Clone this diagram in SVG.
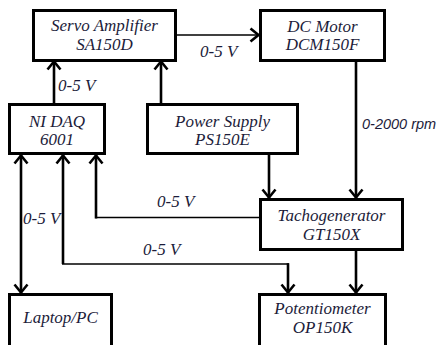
<svg xmlns="http://www.w3.org/2000/svg" width="440" height="345" viewBox="0 0 440 345">
<style>
.box{fill:#fff;stroke:#000;stroke-width:3}
.t{font-family:'Liberation Serif','Times New Roman',serif;font-style:italic;font-size:17px;fill:#1c1c3a;text-anchor:middle}
.lbl{font-family:'Liberation Serif','Times New Roman',serif;font-style:italic;font-size:17px;fill:#1c1c3a}
.rpm{font-family:'Liberation Sans',Arial,sans-serif;font-style:italic;font-size:14.5px;fill:#1c1c3a}
.thick{stroke:#000;stroke-width:2.6;fill:none}
.thin{stroke:#000;stroke-width:1.6;fill:none}
</style>
<defs>
<marker id="ah" viewBox="0 0 12 16" refX="10.5" refY="8" markerWidth="12" markerHeight="16" markerUnits="userSpaceOnUse" orient="auto">
<path d="M2,1.5 L10,8 L2,14.5" fill="none" stroke="#000" stroke-width="2.6"/>
</marker>
<marker id="ahs" viewBox="0 0 12 16" refX="10.5" refY="8" markerWidth="12" markerHeight="16" markerUnits="userSpaceOnUse" orient="auto-start-reverse">
<path d="M2,1.5 L10,8 L2,14.5" fill="none" stroke="#000" stroke-width="2.6"/>
</marker>
</defs>
<g id="connectors">
<line class="thin" x1="177" y1="35" x2="259" y2="35" marker-end="url(#ah)"/>
<line class="thick" x1="54" y1="103" x2="54" y2="61" marker-end="url(#ah)"/>
<line class="thick" x1="161" y1="103" x2="161" y2="61" marker-end="url(#ah)"/>
<line class="thick" x1="356" y1="62" x2="356" y2="198" marker-end="url(#ah)"/>
<line class="thick" x1="269" y1="154" x2="269" y2="198" marker-end="url(#ah)"/>
<line class="thin" x1="259" y1="217.5" x2="95.2" y2="217.5"/>
<line class="thick" x1="96" y1="218.5" x2="96" y2="155" marker-end="url(#ah)"/>
<line class="thick" x1="21" y1="155" x2="21" y2="293" marker-start="url(#ahs)" marker-end="url(#ahs)"/>
<line class="thick" x1="63" y1="264" x2="63" y2="155" marker-end="url(#ah)"/>
<line class="thin" x1="62" y1="264" x2="289" y2="264"/>
<line class="thick" x1="288" y1="263.2" x2="288" y2="293" marker-end="url(#ah)"/>
<line class="thick" x1="356" y1="251" x2="356" y2="293" marker-end="url(#ah)"/>
<text class="lbl" x="200" y="57">0-5 V</text>
<text class="lbl" x="58" y="91">0-5 V</text>
<text class="lbl" x="23" y="224">0-5 V</text>
<text class="lbl" x="157" y="207">0-5 V</text>
<text class="lbl" x="143" y="255">0-5 V</text>
<text class="rpm" x="362" y="129">0-2000 rpm</text>
</g>
<g id="servo">
<rect class="box" x="33.5" y="10.5" width="142" height="50"/>
<text class="t" x="104.5" y="31">Servo Amplifier</text>
<text class="t" x="104.5" y="50">SA150D</text>
</g>
<g id="motor">
<rect class="box" x="260.5" y="10.5" width="124" height="50"/>
<text class="t" x="322.5" y="32">DC Motor</text>
<text class="t" x="322.5" y="50">DCM150F</text>
</g>
<g id="daq">
<rect class="box" x="9.5" y="104.5" width="95" height="49"/>
<text class="t" x="57" y="127">NI DAQ</text>
<text class="t" x="57" y="145">6001</text>
</g>
<g id="power">
<rect class="box" x="147.5" y="104.5" width="150" height="49"/>
<text class="t" x="222.5" y="127">Power Supply</text>
<text class="t" x="222.5" y="145">PS150E</text>
</g>
<g id="tacho">
<rect class="box" x="260.5" y="199.5" width="142" height="50"/>
<text class="t" x="331.5" y="221">Tachogenerator</text>
<text class="t" x="331.5" y="240">GT150X</text>
</g>
<g id="laptop">
<rect class="box" x="9.5" y="294.5" width="102" height="55"/>
<text class="t" x="60.5" y="323">Laptop/PC</text>
</g>
<g id="pot">
<rect class="box" x="259.5" y="294.5" width="126" height="55"/>
<text class="t" x="322.5" y="314">Potentiometer</text>
<text class="t" x="322.5" y="333">OP150K</text>
</g>
</svg>
